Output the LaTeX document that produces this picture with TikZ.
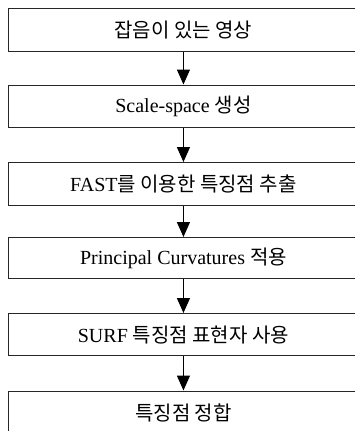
\documentclass[tikz,border=0pt]{standalone}
\usepackage{fontspec}
\setmainfont{Liberation Serif}
\newfontfamily\kr{Noto Sans CJK KR}
\usetikzlibrary{arrows.meta}
\tikzset{
  stepbox/.style={draw=black!85, line width=1.4pt, minimum width=350.5pt, anchor=north west,
    inner sep=0pt, font=\fontsize{20}{22}\selectfont},
  flow/.style={line width=1.4pt, -{Triangle[width=13pt,length=15pt]}}
}
\begin{document}
\begin{tikzpicture}[x=1pt,y=-1pt]
\useasboundingbox (0,0) rectangle (355,431);
\node[stepbox, minimum height=43pt] (s1) at (7.5,7.5) {\kr 잡음이 있는 영상};
\node[stepbox, minimum height=42.5pt] (s2) at (7.5,84.5) {Scale-space {\kr 생성}};
\node[stepbox, minimum height=43pt] (s3) at (7.5,162) {FAST{\kr 를 이용한 특징점 추출}};
\node[stepbox, minimum height=41pt] (s4) at (7.5,237) {Principal Curvatures {\kr 적용}};
\node[stepbox, minimum height=42pt] (s5) at (7.5,313) {SURF {\kr 특징점 표현자 사용}};
\node[stepbox, minimum height=43pt] (s6) at (7.5,390.5) {\kr 특징점 정합};
\draw[flow] (s1) -- (s2);
\draw[flow] (s2) -- (s3);
\draw[flow] (s3) -- (s4);
\draw[flow] (s4) -- (s5);
\draw[flow] (s5) -- (s6);
\end{tikzpicture}
\end{document}
